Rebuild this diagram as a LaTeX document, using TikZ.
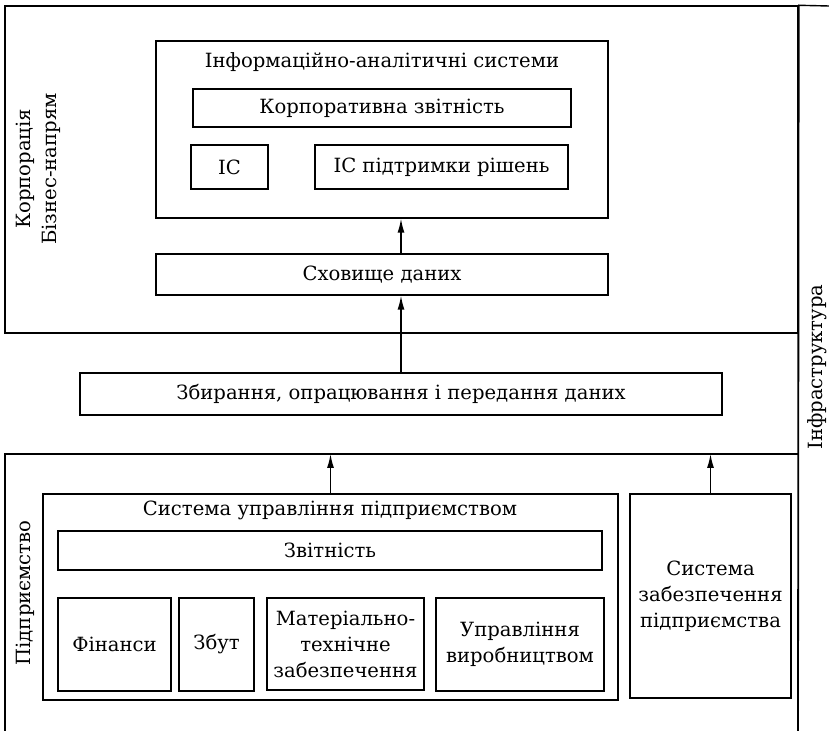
\documentclass[tikz,border=0pt]{standalone}
\usepackage{fontspec}
\setmainfont{DejaVu Serif}
\usetikzlibrary{arrows.meta,fit}

\begin{document}
\begin{tikzpicture}[x=0.5pt, y=-0.5pt, line cap=round, >={Latex[length=7pt,width=3.5pt]},
	font=\fontsize{9.8}{13}\selectfont,
	box/.style={draw, line width=0.7pt, inner sep=0pt},
	every label/.style={align=center}]
	\useasboundingbox (0,0) rectangle (829,731);
	% corporation level
	\node[box, fit={(5,6) (798,333)}] (corp) {};
	\node[rotate=90, align=center] (corplab) at (38,169) {Корпорація\\Бізнес-напрям};
	\node[box, fit={(156,41) (608,218)}] (ias) {};
	\node (iastitle) at (382,62) {Інформаційно-аналітичні системи};
	\node[box, fit={(193,89) (571,127)}, label=center:Корпоративна звітність] (corprep) {};
	\node[box, fit={(191,145) (268,189)}, label=center:ІС] (is) {};
	\node[box, fit={(315,145) (568,189)}, label=center:ІС підтримки рішень] (dss) {};
	\node[box, fit={(156,254) (608,295)}, label=center:Сховище даних] (store) {};
	\node[box, fit={(80,373) (722,415)}, label={center:Збирання, опрацювання і передання даних}] (gather) {};
	% enterprise level
	\draw[line width=0.7pt] (5,731) |- (798,454) coordinate (ent);
	\node[rotate=90] (entlab) at (25,593) {Підприємство};
	\node[box, fit={(43,494) (618,700)}] (sup) {};
	\node (suptitle) at (330,510) {Система управління підприємством};
	\node[box, fit={(58,531) (602,570)}, label=center:Звітність] (rep) {};
	\node[box, fit={(58,598) (171,691)}, label=center:Фінанси] (fin) {};
	\node[box, fit={(179,598) (254,691)}, label=center:Збут] (sales) {};
	\node[box, fit={(267,598) (424,690)}, label={center:Матеріально-\\технічне\\забезпечення}] (mts) {};
	\node[box, fit={(436,598) (604,691)}, label={center:Управління\\виробництвом}] (prod) {};
	\node[box, fit={(630,494) (791,698)}, label={center:Система\\забезпечення\\підприємства}] (ess) {};
	% infrastructure
	\draw[line width=0.9pt] (corp.north east) -- (798,731);
	\draw[line width=0.7pt] (corp.north east) -- (829,6);
	\node[rotate=90] (infra) at (817,367) {Інфраструктура};
	% arrows
	\draw[->, line width=0.7pt] (gather.north) -- (gather.north |- store.south);
	\draw[->, line width=0.7pt] (gather.north |- store.north) -- (gather.north |- ias.south);
	\draw[->, line width=0.7pt] (sup.north) -- (sup.north |- ent);
	\draw[->, line width=0.7pt] (ess.north) -- (ess.north |- ent);
\end{tikzpicture}
\end{document}
